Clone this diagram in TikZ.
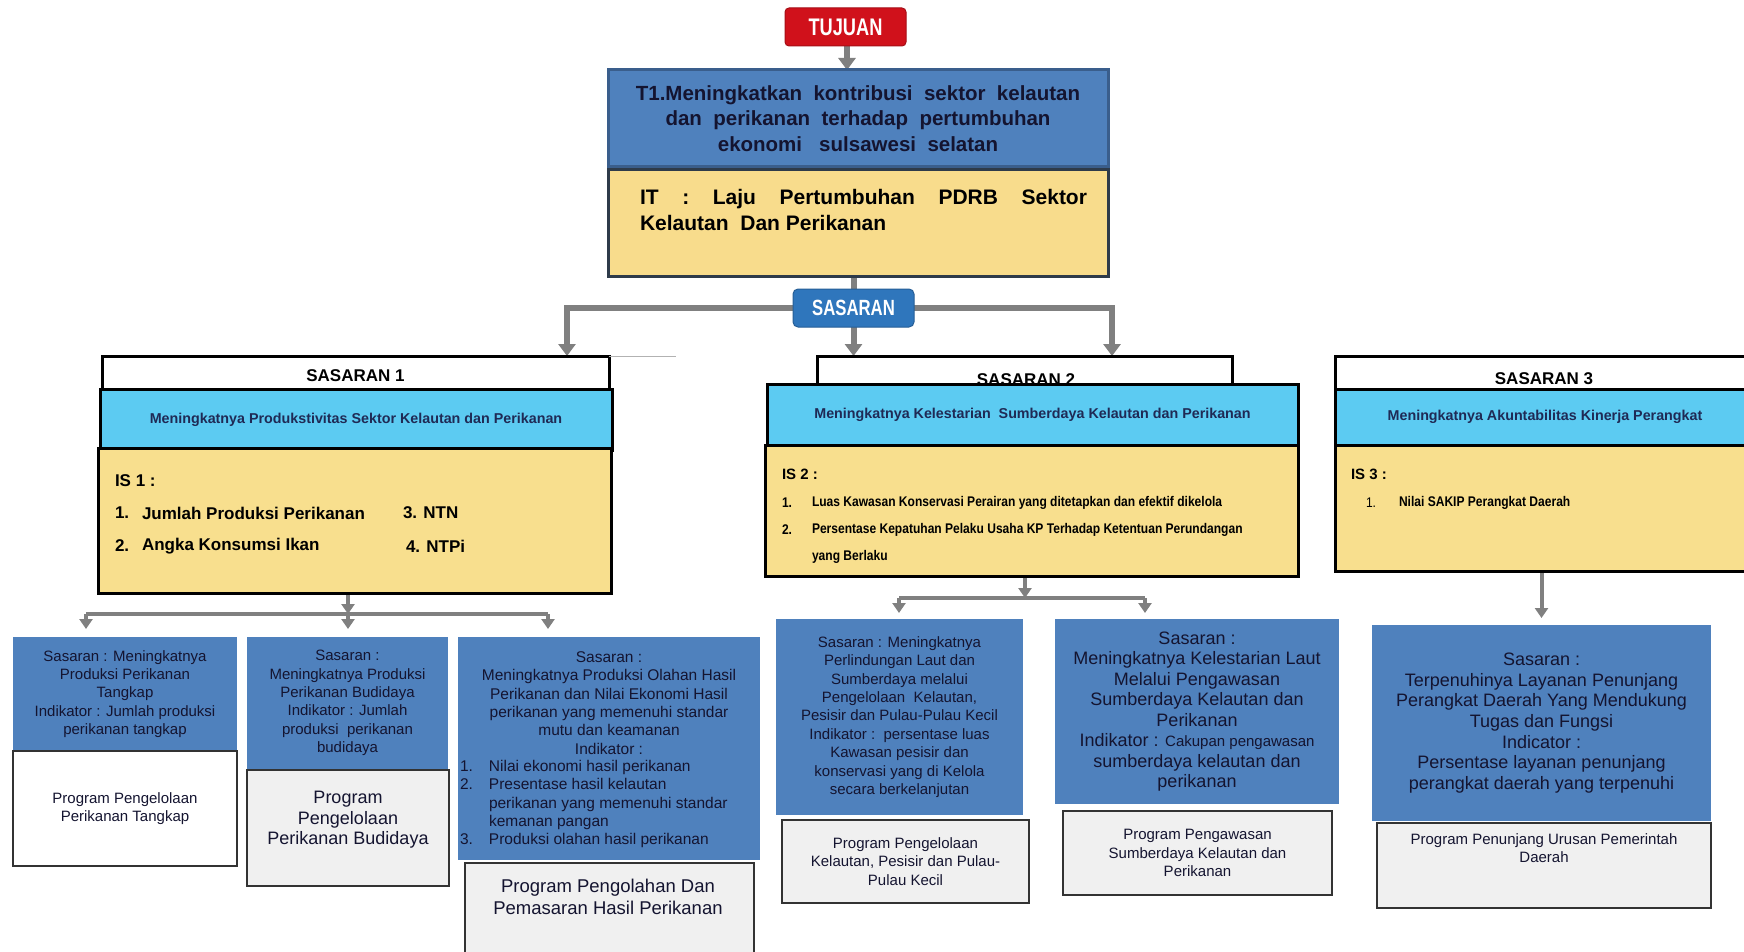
\documentclass[tikz,border=0pt]{standalone}
\usepackage{fontspec}
\setmainfont{Liberation Sans}
\newfontfamily\condfont[FakeStretch=0.76]{Liberation Sans}
\newfontfamily\narrowfont[FakeStretch=0.86]{Liberation Sans}
\usetikzlibrary{arrows.meta,calc}
\definecolor{tred}{HTML}{D0111B}
\definecolor{tblue}{HTML}{4F81BD}
\definecolor{tborder}{HTML}{3A5E8C}
\definecolor{ityellow}{HTML}{F8DC8C}
\definecolor{itborder}{HTML}{2E3B4A}
\definecolor{sblue}{HTML}{2F76BC}
\definecolor{cyanbox}{HTML}{5CCBF2}
\definecolor{ybox}{HTML}{F8DF8E}
\definecolor{lblue}{HTML}{4F81BD}
\definecolor{pgray}{HTML}{F0F0F0}
\definecolor{pborder}{HTML}{333333}
\definecolor{cgray}{HTML}{808080}
\definecolor{navy}{HTML}{1F2A55}
\definecolor{ltext}{HTML}{141430}
\pgfdeclarelayer{back}
\pgfdeclarelayer{bg}
\pgfsetlayers{back,bg,main}
\tikzset{
  every node/.style={inner sep=0pt, outer sep=0pt},
  rbox/.style={anchor=north west, rectangle},
  conn/.style={draw=cgray, line width=6pt},
  arrbig/.style={draw=cgray, line width=6pt, -{Triangle[width=17pt,length=12pt]}},
  arrsm/.style={draw=cgray, line width=4pt, -{Triangle[width=13pt,length=10pt]}},
  barline/.style={draw=cgray, line width=4pt},
  headbox/.style={rbox, fill=white, draw=black, line width=3pt},
  cyanstyle/.style={rbox, fill=cyanbox, draw=black, line width=3pt, text=navy, font=\bfseries\fontsize{14.3}{17}\selectfont},
  ystyle/.style={rbox, fill=ybox, draw=black, line width=3pt},
  headtxt/.style={font=\bfseries\fontsize{17}{20}\selectfont, text=black},
  istxt/.style={anchor=west, font=\bfseries\fontsize{17}{20}\selectfont, text=black},
  is2txt/.style={anchor=west, font=\narrowfont\bfseries\fontsize{14}{17}\selectfont, text=black},
  lowbox/.style={rbox, fill=lblue, align=center, text=ltext, font=\fontsize{15}{18.4}\selectfont},
  prog/.style={rbox, fill=pgray, draw=pborder, line width=1.5pt, align=center, text=ltext, font=\fontsize{15}{18.4}\selectfont},
  lowtxt/.style={align=center, text=ltext, font=\fontsize{15}{18.4}\selectfont},
}
\begin{document}
\begin{tikzpicture}[x=1pt,y=-1pt]
\clip (0,0) rectangle (1744,952);
\begin{pgfonlayer}{back}
\fill[white] (0,0) rectangle (1744,952);
\end{pgfonlayer}

% top part
\node[rbox, fill=tred, draw=tred!80!black, line width=1pt, rounded corners=4pt,
      minimum width=121pt, minimum height=38pt, text=white,
      font=\condfont\bfseries\fontsize{24}{24}\selectfont] (tujuan) at (785,8) {TUJUAN};
\node[rbox, fill=tblue, draw=tborder, line width=3pt, minimum width=500pt, minimum height=97pt,
      align=center, text=ltext, font=\bfseries\fontsize{20.5}{25.5}\selectfont] (t1) at (608,70)
      {T1.Meningkatkan\ \ kontribusi\ \ sektor\ \ kelautan\\dan\ \ perikanan\ \ terhadap\ \ pertumbuhan\\ekonomi\ \ \ sulsawesi\ \ selatan};
\node[rbox, fill=ityellow, draw=itborder, line width=3pt, minimum width=500pt, minimum height=106pt] (it) at (608,170) {};
\node[anchor=north west, align=left, text=black, font=\bfseries\fontsize{21}{26}\selectfont] (ittxt) at (640,189)
      {\makebox[447pt][s]{IT : Laju Pertumbuhan PDRB Sektor}\\Kelautan\ \ Dan Perikanan};
\node[rbox, fill=sblue, draw=sblue!80!black, line width=1pt, rounded corners=5pt,
      minimum width=121pt, minimum height=38pt, text=white,
      font=\condfont\bfseries\fontsize{22}{22}\selectfont] (sasaran) at (793,289) {SASARAN};

% sasaran 1
\node[headbox, minimum width=507pt, minimum height=33pt] (s1head) at (102,356) {};
\node[headtxt] (s1txt) at (355.5,376) {SASARAN 1};
\draw[gray!60, line width=0.8pt] (s1head.north east) -- ++(67,0);
\node[cyanstyle, minimum width=512pt, minimum height=61pt] (c1) at (100,389)
      {Meningkatnya Produkstivitas Sektor Kelautan dan Perikanan};
\node[ystyle, minimum width=513pt, minimum height=145pt] (y1) at (98,448) {};
\node[istxt] (is1) at (115,481) {IS 1 :};
\node[istxt] (is1a) at (115,513) {1.};
\node[istxt] (is1b) at (142,513) {Jumlah Produksi Perikanan};
\node[istxt] (is1c) at (403,513) {3. NTN};
\node[istxt] (is1d) at (115,546) {2.};
\node[istxt] (is1e) at (142,546) {Angka Konsumsi Ikan};
\node[istxt] (is1f) at (406,546) {4. NTPi};

% sasaran 2
\node[headbox, minimum width=415pt, minimum height=30pt] (s2head) at (817,356) {};
\node[headtxt] (s2txt) at (1026,380) {SASARAN 2};
\node[cyanstyle, minimum width=531pt, minimum height=61pt] (c2) at (767,384)
      {Meningkatnya Kelestarian\ \ Sumberdaya Kelautan dan Perikanan};
\node[ystyle, minimum width=533pt, minimum height=131pt] (y2) at (765,445) {};
\node[istxt, font=\bfseries\fontsize{15}{18}\selectfont] (is2) at (782,474) {IS 2 :};
\node[is2txt] (is2a) at (782,503) {1.};
\node[is2txt] (is2b) at (812,503) {Luas Kawasan Konservasi Perairan yang ditetapkan dan efektif dikelola};
\node[is2txt] (is2c) at (782,530) {2.};
\node[is2txt] (is2d) at (812,530) {Persentase Kepatuhan Pelaku Usaha KP Terhadap Ketentuan Perundangan};
\node[is2txt] (is2e) at (812,557) {yang Berlaku};

% sasaran 3
\node[headbox, minimum width=420pt, minimum height=33pt] (s3head) at (1335,356) {};
\node[headtxt] (s3txt) at (1544,379) {SASARAN 3};
\node[cyanstyle, minimum width=420pt, minimum height=56pt] (c3) at (1335,389)
      {Meningkatnya Akuntabilitas Kinerja Perangkat};
\node[ystyle, minimum width=420pt, minimum height=126pt] (y3) at (1335,445) {};
\node[istxt, font=\bfseries\fontsize{15}{18}\selectfont] (is3) at (1351,474) {IS 3 :};
\node[is2txt, font=\narrowfont\fontsize{14}{17}\selectfont] (is3a) at (1366,503) {1.};
\node[is2txt] (is3b) at (1399,503) {Nilai SAKIP Perangkat Daerah};

% lower boxes, branch 1
\node[lowbox, minimum width=224pt, minimum height=114pt] (boxA) at (13,637)
      {Sasaran : Meningkatnya\\Produksi Perikanan\\Tangkap\\Indikator : Jumlah produksi\\perikanan tangkap};
\node[prog, fill=white, minimum width=224pt, minimum height=115pt] (progA) at (13,751)
      {Program Pengelolaan\\Perikanan Tangkap};
\node[lowbox, minimum width=201pt, minimum height=132pt] (boxB) at (247,637)
      {Sasaran :\\Meningkatnya Produksi\\Perikanan Budidaya\\Indikator : Jumlah\\produksi\ \ perikanan\\budidaya};
\node[prog, minimum width=202pt, minimum height=116pt] (progB) at (247,770) {};
\node[lowtxt, font=\fontsize{18}{20.5}\selectfont] (progBt) at (348,820) {Program\\Pengelolaan\\Perikanan Budidaya};
\node[lowbox, minimum width=302pt, minimum height=223pt] (boxC) at (458,637) {};
\node[lowtxt, font=\fontsize{15.5}{18.4}\selectfont] (boxCt) at (609,703)
      {Sasaran :\\Meningkatnya Produksi Olahan Hasil\\Perikanan dan Nilai Ekonomi Hasil\\perikanan yang memenuhi standar\\mutu dan keamanan\\Indikator :};
\node[lowtxt, align=left, anchor=west, font=\fontsize{15.5}{18.4}\selectfont] (boxCl) at (460,804)
      {\makebox[29pt][l]{1.}Nilai ekonomi hasil perikanan\\
       \makebox[29pt][l]{2.}Presentase hasil kelautan\\
       \hspace*{29pt}perikanan yang memenuhi standar\\
       \hspace*{29pt}kemanan pangan\\
       \makebox[29pt][l]{3.}Produksi olahan hasil perikanan};
\node[prog, minimum width=289pt, minimum height=100pt] (progC) at (465,863) {};
\node[lowtxt, font=\fontsize{18.5}{22}\selectfont] (progCt) at (608,897) {Program Pengolahan Dan\\Pemasaran Hasil Perikanan};

% branch 2
\node[lowbox, minimum width=247pt, minimum height=196pt] (boxD) at (776,619)
      {Sasaran : Meningkatnya\\Perlindungan Laut dan\\Sumberdaya melalui\\Pengelolaan\ \ Kelautan,\\Pesisir dan Pulau-Pulau Kecil\\Indikator :\ \ persentase luas\\Kawasan pesisir dan\\konservasi yang di Kelola\\secara berkelanjutan};
\node[prog, minimum width=247pt, minimum height=83pt] (progD) at (782,820)
      {Program Pengelolaan\\Kelautan, Pesisir dan Pulau-\\Pulau Kecil};
\node[lowbox, minimum width=284pt, minimum height=185pt, font=\fontsize{18}{20.5}\selectfont] (boxE) at (1055,619)
      {Sasaran :\\Meningkatnya Kelestarian Laut\\Melalui Pengawasan\\Sumberdaya Kelautan dan\\Perikanan\\Indikator : \fontsize{15}{20}\selectfont Cakupan pengawasan\\sumberdaya kelautan dan\\perikanan};
\node[prog, minimum width=269pt, minimum height=84pt] (progE) at (1063,811)
      {Program Pengawasan\\Sumberdaya Kelautan dan\\Perikanan};

% branch 3
\node[lowbox, minimum width=339pt, minimum height=196pt, font=\fontsize{18}{20.7}\selectfont] (boxF) at (1372,625)
      {Sasaran :\\Terpenuhinya Layanan Penunjang\\Perangkat Daerah Yang Mendukung\\Tugas dan Fungsi\\Indicator :\\Persentase layanan penunjang\\perangkat daerah yang terpenuhi};
\node[prog, minimum width=334pt, minimum height=85pt] (progF) at (1377,823) {};
\node[lowtxt] (progFt) at (1544,848) {Program Penunjang Urusan Pemerintah\\Daerah};

% connectors
\coordinate (bar1l) at (86,614);
\coordinate (bar1m) at (348,614);
\coordinate (bar1r) at (548,614);
\coordinate (bar2l) at (899,598);
\coordinate (bar2m) at (1025,598);
\coordinate (bar2r) at (1145,598);
\coordinate (tx) at (847,0);
\begin{pgfonlayer}{bg}
\draw[arrbig] (tujuan.south -| tx) -- (t1.north -| tx);
\draw[conn] (sasaran.north |- it.south) -- (sasaran.north);
\draw[arrbig] (sasaran.center) -| ([xshift=-42pt]s1head.north east);
\draw[arrbig] (sasaran.south) -- (sasaran.south |- s2head.north);
\draw[arrbig] (sasaran.center) -| ([xshift=-120pt]s2head.north east);
\draw[arrsm] (y1.south -| bar1m) -- (bar1m);
\draw[barline] (bar1l) -- (bar1r);
\draw[arrsm, shorten >=8pt] (bar1l) -- (bar1l |- boxA.north);
\draw[arrsm, shorten >=8pt] (bar1m) -- (bar1m |- boxB.north);
\draw[arrsm, shorten >=8pt] (bar1r) -- (bar1r |- boxC.north);
\draw[arrsm] (y2.south -| bar2m) -- (bar2m);
\draw[barline] (bar2l) -- (bar2r);
\draw[arrsm, shorten >=6pt] (bar2l) -- (bar2l |- boxD.north);
\draw[arrsm, shorten >=6pt] (bar2r) -- (bar2r |- boxE.north);
\draw[arrsm, shorten >=7pt] (y3.south -| boxF.north) -- (boxF.north);
\end{pgfonlayer}
\end{tikzpicture}
\end{document}
